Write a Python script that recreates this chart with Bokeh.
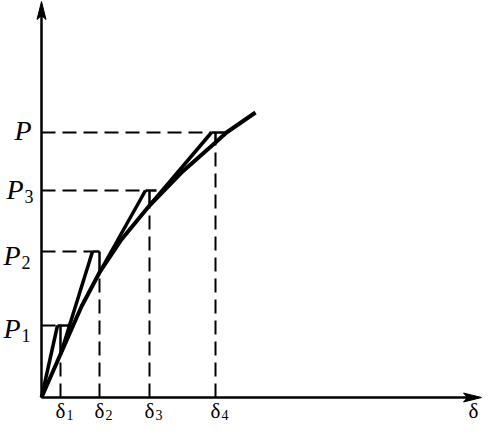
from bokeh.plotting import figure
from bokeh.models import Range1d, ColumnDataSource
from bokeh.core.properties import value
from bokeh.embed import file_html
from bokeh.resources import INLINE

# ---- data (units: pixels from the origin) ----
curve_x = [0, 18, 40, 58, 80, 108, 140, 174, 185, 214]
curve_y = [0, 41, 91, 125, 158, 192, 225, 255, 265, 285]

delta_x = [19, 58, 108, 174]          # δ1..δ4
load_levels = [72, 146, 207, 265]      # P1, P2, P3, P
peak_x = [16, 51, 104, 170]            # where each tangent reaches its load level
level_end_x = [27, 58, 115, 185]       # end of the solid horizontal piece
curve_at_delta = [43, 125, 192, 255]   # curve ordinate under each δ

load_names = ["P", "P", "P", "P"]
load_subs = ["1", "2", "3", ""]
delta_names = ["δ", "δ", "δ", "δ"]
delta_subs = ["1", "2", "3", "4"]
axis_name_x = "δ"

# ---- layout constants ----
W, H = 482, 422
X0, X1 = -41, 441
Y0, Y1 = -25, 397
p_label_right = [-21, -21, -18, -10]
p_label_dy = [10, 11, 6, 5]          # baseline below the level line, px
K = 0.25                              # renderer baseline correction (fraction of font size)
P_FS, P_SUB_FS = 28, 18
D_FS, D_SUB_FS = 21, 14
FONT = value("Liberation Serif")

p = figure(width=W, height=H, x_range=Range1d(X0, X1), y_range=Range1d(Y0, Y1),
           output_backend="svg", toolbar_location=None, min_border=0,
           x_axis_location=None, y_axis_location=None, title=None,
           outline_line_color=None, background_fill_color="white",
           border_fill_color="white")
p.grid.visible = False

# axes
y_top = Y1 - 1
x_right = X1 - 1
ah_len, ah_w, ah_notch = 18, 4.5, 4
p.line([0, 0], [0, y_top - ah_len + ah_notch], line_color="black", line_width=2.5)
p.line([0, x_right - ah_len + ah_notch], [0, 0], line_color="black", line_width=2.5)
p.patch([0, -ah_w, 0, ah_w], [y_top, y_top - ah_len, y_top - ah_len + ah_notch, y_top - ah_len],
        fill_color="black", line_color="black", line_width=1)
p.patch([x_right, x_right - ah_len, x_right - ah_len + ah_notch, x_right - ah_len], [0, ah_w, 0, -ah_w],
        fill_color="black", line_color="black", line_width=1)

# dashed guide lines
hx = [[0, px] for px in peak_x]
hy = [[lv, lv] for lv in load_levels]
p.multi_line(hx, hy, line_color="black", line_width=2, line_dash="14 7")
vx = [[dx, dx] for dx in delta_x]
vy = [[0, c] for c in curve_at_delta]
p.multi_line(vx, vy, line_color="black", line_width=2, line_dash="14 7")

# the curve
p.line(curve_x, curve_y, line_color="black", line_width=4, line_join="round")

# incremental steps
start_x = [0] + delta_x[:-1]
start_y = [0] + curve_at_delta[:-1]
tx = [[sx, px] for sx, px in zip(start_x, peak_x)]
ty = [[sy, lv] for sy, lv in zip(start_y, load_levels)]
p.multi_line(tx, ty, line_color="black", line_width=3.5)
sx_h = [[px, ex] for px, ex in zip(peak_x, level_end_x)]
p.multi_line(sx_h, hy, line_color="black", line_width=2.5)
sv_x = [[dx, dx] for dx in delta_x]
sv_y = [[lv, c] for lv, c in zip(load_levels, curve_at_delta)]
p.multi_line(sv_x, sv_y, line_color="black", line_width=2.5)

# load labels
src_p = ColumnDataSource(dict(
    x=p_label_right, y=load_levels, t=load_names, s=load_subs,
    dy=[d - K * P_FS for d in p_label_dy],
    xs=[v + 1 for v in p_label_right],
    dys=[d + 4 - K * P_SUB_FS for d in p_label_dy]))
p.text(x="x", y="y", text="t", y_offset="dy", source=src_p, text_font=FONT, text_font_style="italic",
       text_font_size=f"{P_FS}px", text_align="right", text_baseline="alphabetic", text_color="black")
p.text(x="xs", y="y", text="s", y_offset="dys", source=src_p, text_font=FONT,
       text_font_size=f"{P_SUB_FS}px", text_align="left", text_baseline="alphabetic", text_color="black")

# delta labels
d_base = 19
src_d = ColumnDataSource(dict(x=delta_x, y=[0] * 4, t=delta_names, s=delta_subs,
                              xs=[d + 6 for d in delta_x]))
p.text(x="x", y="y", text="t", y_offset=d_base - K * D_FS, source=src_d, text_font=FONT,
       text_font_size=f"{D_FS}px", text_align="center", text_baseline="alphabetic", text_color="black")
p.text(x="xs", y="y", text="s", y_offset=d_base + 1.5 - K * D_SUB_FS, source=src_d, text_font=FONT,
       text_font_size=f"{D_SUB_FS}px", text_align="left", text_baseline="alphabetic", text_color="black")

p.text(x=[x_right - 8], y=[0], text=[axis_name_x], y_offset=d_base - K * D_FS, text_font=FONT,
       text_font_size=f"{D_FS}px", text_align="center", text_baseline="alphabetic", text_color="black")

open("out.html", "w").write(file_html(p, INLINE))
